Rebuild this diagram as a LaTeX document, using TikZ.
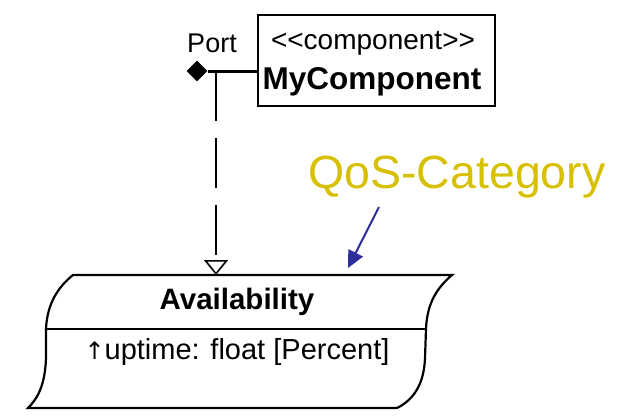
\documentclass[tikz,border=0pt]{standalone}
\usepackage{fontspec}
\setmainfont{Liberation Sans}
\newfontfamily\symfont{DejaVu Sans}
\usetikzlibrary{arrows.meta,shapes.geometric}
\definecolor{qosyellow}{RGB}{214,192,0}
\definecolor{notearrow}{RGB}{45,45,155}
\tikzset{
  outline/.style={draw=black, line width=2.2pt},
  lbl/.style={inner sep=0pt, text=black},
  realize/.style={line width=2.2pt, dash pattern=on 50pt off 17pt,
    -{Triangle[open, length=15pt, width=24pt, line width=1.6pt]}},
}
\newcommand{\fsz}[1]{\fontsize{#1}{#1}\selectfont}
\begin{document}
\begin{tikzpicture}[x=1pt, y=-1pt]
\useasboundingbox (0,0) rectangle (618,416);

% component box
\node[outline, rectangle, minimum width=237pt, minimum height=91pt, inner sep=0pt,
      anchor=north west] (comp) at (257,14) {};
\node[lbl] (stereo) at (373,43) {\fsz{28}<\kern0pt<component>\kern0pt>};
\node[lbl] (cname) at (372,82) {\fsz{31.5}\bfseries MyComponent};

% port
\node[lbl] (portlbl) at (212,43) {\fsz{27}Port};
\node[diamond, fill=black, inner sep=0pt, minimum width=21pt, minimum height=21pt] (port) at (197,71) {};
\coordinate (junc) at (216,71);
\draw[line width=3pt] (port.east) -- (comp.west |- port.east);

% QoS category shape
\draw[outline]
  (73,275) -- (452,275)
  .. controls (438,287) and (427,302) .. (426,329)
  -- (425,358)
  .. controls (424,385) and (413,400) .. (397,408)
  -- (28,408)
  .. controls (38,398) and (45,385) .. (46,358)
  -- (46,329)
  .. controls (47,304) and (58,287) .. (73,275) -- cycle;
\coordinate (dl) at (46,329);
\coordinate (dr) at (426,329);
\draw[outline] (dl) -- (dr);
\coordinate (availtop) at (216,275);
\node[lbl] (avname) at (237,302) {\fsz{29.5}\bfseries Availability};
\node[lbl] (attr) at (237,352) {\fsz{29}{\symfont\fsz{24}↑}uptime: float [Percent]};

% realization from the port to the category
\draw[realize] (junc) -- (availtop);

% annotation
\node[lbl, text=qosyellow] (qos) at (457,177) {\fsz{46.5}QoS-Category};
\coordinate (qa) at (379,207);
\coordinate (qb) at (348,268);
\draw[notearrow, line width=2pt, -{Triangle[length=17pt, width=16pt]}] (qa) -- (qb);
\end{tikzpicture}
\end{document}
